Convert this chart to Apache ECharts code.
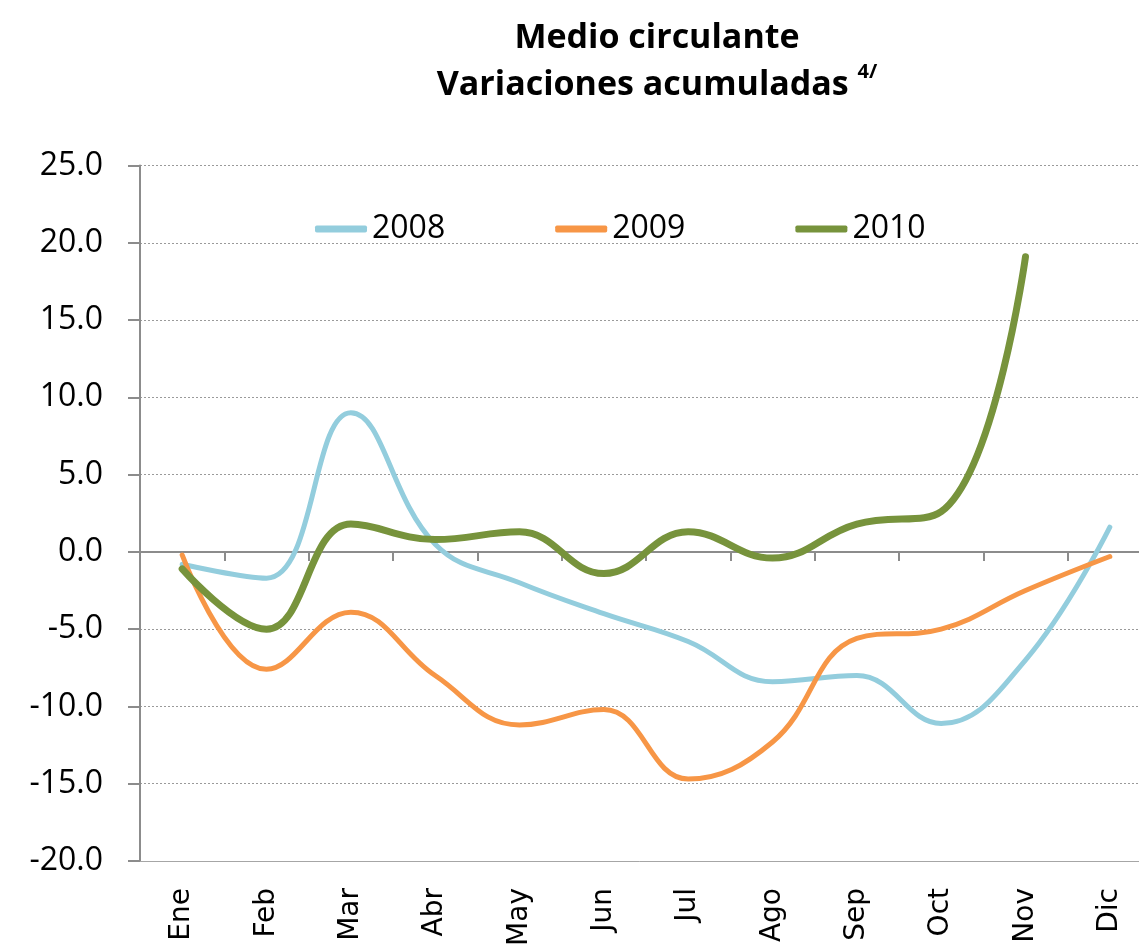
<!DOCTYPE html>
<html>
<head>
<meta charset="utf-8">
<script src="https://cdn.jsdelivr.net/npm/echarts@6/dist/echarts.min.js"></script>
<style>
  html, body { margin: 0; padding: 0; background: #fff; }
  #chart { width: 1139px; height: 951px; }
</style>
</head>
<body>
<div id="chart"></div>
<script>
// months on the category axis
let months = ['Ene', 'Feb', 'Mar', 'Abr', 'May', 'Jun', 'Jul', 'Ago', 'Sep', 'Oct', 'Nov', 'Dic'];
let years = ['2008', '2009', '2010'];

let v2008 = [-0.8, -1.7, 9.0, 0.5, -2.0, -4.0, -5.8, -8.4, -8.0, -11.1, -7.0, 1.6];
let v2009 = [-0.2, -7.6, -3.9, -8.0, -11.2, -10.2, -14.7, -12.3, -5.6, -5.0, -2.5, -0.3];
let v2010 = [-1.1, -5.0, 1.8, 0.8, 1.3, -1.4, 1.3, -0.4, 1.8, 2.6, 19.1];

let colors = ['#93CDDD', '#F79646', '#77933C'];
let widths = [5, 5, 7];

let myChart = echarts.init(document.getElementById('chart'));

function line(i, data) {
    return {
        name: years[i],
        type: 'line',
        data: data,
        smooth: 0.42,
        symbol: 'none',
        lineStyle: { color: colors[i], width: widths[i], cap: 'round' },
        itemStyle: { color: colors[i] }
    };
}

myChart.setOption({
    animation: false,
    title: {
        text: 'Medio circulante\nVariaciones acumuladas {sup|4/}',
        left: 652,
        top: 10,
        textAlign: 'center',
        textStyle: {
            fontFamily: 'Open Sans',
            fontWeight: 'bold',
            fontSize: 34,
            lineHeight: 47,
            color: '#000',
            rich: {
                sup: {
                    fontFamily: 'Open Sans',
                    fontWeight: 'bold',
                    fontSize: 20,
                    verticalAlign: 'top',
                    padding: [0, 0, 16, 0]
                }
            }
        }
    },
    legend: {
        data: years,
        left: 310,
        top: 208,
        icon: 'roundRect',
        itemWidth: 52,
        itemHeight: 7,
        itemGap: 110,
        textStyle: { fontFamily: 'Open Sans', fontSize: 32, color: '#000' }
    },
    grid: {
        left: 140,
        top: 165.5,
        width: 1012,
        height: 695.5,
        containLabel: false,
        outerBoundsMode: 'none'
    },
    xAxis: [{
        type: 'category',
        data: months,
        boundaryGap: true,
        position: 'bottom',
        axisLine: { onZero: true, lineStyle: { color: '#8c8c8c', width: 2 } },
        axisTick: { show: true, length: 9, lineStyle: { color: '#8c8c8c', width: 2 } },
        axisLabel: { show: false }
    }, {
        type: 'category',
        data: months,
        boundaryGap: true,
        position: 'bottom',
        axisLine: { onZero: false, show: true, lineStyle: { color: '#a6a6a6', width: 1 } },
        axisTick: { show: false },
        axisLabel: {
            rotate: 90,
            margin: 27,
            fontFamily: 'DejaVu Sans',
            fontSize: 28,
            color: '#000'
        }
    }],
    yAxis: {
        type: 'value',
        min: -20,
        max: 25,
        interval: 5,
        axisLine: { show: true, lineStyle: { color: '#8c8c8c', width: 2 } },
        axisTick: { show: true, length: 12, lineStyle: { color: '#8c8c8c', width: 2 } },
        axisLabel: {
            margin: 37,
            fontFamily: 'Open Sans',
            fontSize: 32,
            color: '#000',
            formatter: v => v.toFixed(1)
        },
        splitLine: { show: true, lineStyle: { color: '#9a9a9a', type: [2, 2], width: 1 } }
    },
    series: [
        line(0, v2008),
        line(1, v2009),
        line(2, v2010)
    ]
});
</script>
</body>
</html>
